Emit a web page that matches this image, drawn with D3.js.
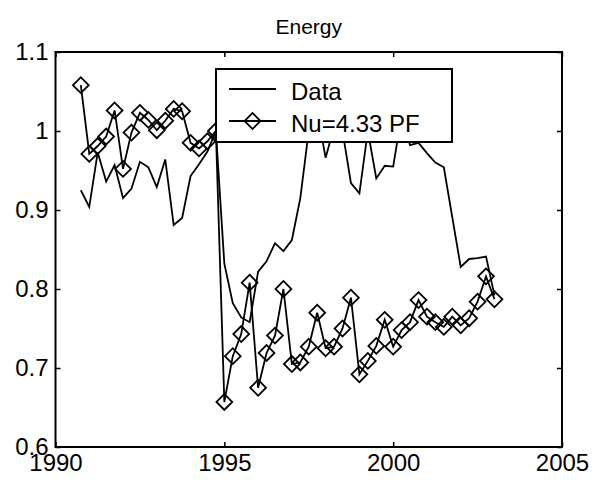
<!DOCTYPE html>
<html>
<head>
<meta charset="utf-8">
<script src="https://cdn.jsdelivr.net/npm/d3@7/dist/d3.min.js"></script>
<style>
  html, body { margin: 0; padding: 0; background: #fff; }
  svg { display: block; }
  text { font-family: "Liberation Sans", Arial, Helvetica, sans-serif; fill: #000; }
</style>
</head>
<body>
<svg id="chart" width="604" height="488"></svg>
<script>
// ---- data ----
const years = [1990.75, 1991.00, 1991.25, 1991.50, 1991.75, 1992.00, 1992.25, 1992.50, 1992.75, 1993.00,
               1993.25, 1993.50, 1993.75, 1994.00, 1994.25, 1994.50, 1994.75, 1995.00, 1995.25, 1995.50,
               1995.75, 1996.00, 1996.25, 1996.50, 1996.75, 1997.00, 1997.25, 1997.50, 1997.75, 1998.00,
               1998.25, 1998.50, 1998.75, 1999.00, 1999.25, 1999.50, 1999.75, 2000.00, 2000.25, 2000.50,
               2000.75, 2001.00, 2001.25, 2001.50, 2001.75, 2002.00, 2002.25, 2002.50, 2002.75, 2003.00];
const dataValues = [0.925, 0.904, 0.973, 0.936, 0.957, 0.915, 0.927, 0.961, 0.954, 0.929,
                    0.964, 0.881, 0.890, 0.943, 0.958, 0.974, 1.000, 0.832, 0.782, 0.764,
                    0.758, 0.822, 0.835, 0.858, 0.848, 0.862, 0.915, 1.000, 1.025, 0.966,
                    1.005, 1.000, 0.934, 0.921, 1.000, 0.940, 0.956, 0.955, 1.020, 0.982,
                    0.985, 0.972, 0.960, 0.954, 0.891, 0.828, 0.838, 0.839, 0.841, 0.792];
const pfValues = [1.058, 0.971, 0.981, 0.993, 1.026, 0.952, 0.998, 1.023, 1.014, 1.001,
                  1.013, 1.028, 1.025, 0.985, 0.978, 0.987, 1.000, 0.657, 0.715, 0.743,
                  0.808, 0.675, 0.719, 0.741, 0.800, 0.705, 0.707, 0.727, 0.770, 0.725,
                  0.727, 0.750, 0.789, 0.692, 0.709, 0.728, 0.761, 0.727, 0.748, 0.758,
                  0.786, 0.765, 0.758, 0.752, 0.765, 0.754, 0.763, 0.784, 0.816, 0.787];
const xTicks = [1990, 1995, 2000, 2005];
const yTicks = [0.6, 0.7, 0.8, 0.9, 1.0, 1.1];
const yTickLabels = ["0.6", "0.7", "0.8", "0.9", "1", "1.1"];
const titleText = "Energy";
const seriesNames = ["Data", "Nu=4.33 PF"];

// ---- layout ----
const svg = d3.select("#chart");
const L = 55.5, R = 562, T = 52, B = 447;
const x = d3.scaleLinear().domain([1990, 2005]).range([L, R]);
const y = d3.scaleLinear().domain([0.6, 1.1]).range([B, T]);
const FONT = 24;
const SW = 1.8;

const dataPts = years.map((t, i) => ({t, v: dataValues[i]}));
const pfPts = years.map((t, i) => ({t, v: pfValues[i]}));

// axes
function styleAxis(g, showText) {
  g.select(".domain").remove();
  g.selectAll(".tick line").attr("stroke", "#000").attr("stroke-width", 1.5);
  g.selectAll(".tick text").attr("font-size", FONT)
    .attr("font-family", '"Liberation Sans", Arial, sans-serif').attr("fill", "#000");
  if (!showText) g.selectAll(".tick text").remove();
}
svg.append("g").attr("transform", `translate(0,${B})`)
  .call(d3.axisBottom(x).tickValues(xTicks).tickFormat(d3.format("d")).tickSize(-5).tickPadding(7))
  .call(g => styleAxis(g, true));
svg.append("g").attr("transform", `translate(0,${T})`)
  .call(d3.axisTop(x).tickValues(xTicks).tickSize(-5))
  .call(g => styleAxis(g, false));
svg.append("g").attr("transform", `translate(${L},0)`)
  .call(d3.axisLeft(y).tickValues(yTicks).tickFormat((d, i) => yTickLabels[i]).tickSize(-5).tickPadding(7))
  .call(g => styleAxis(g, true));
svg.append("g").attr("transform", `translate(${R},0)`)
  .call(d3.axisRight(y).tickValues(yTicks).tickSize(-5))
  .call(g => styleAxis(g, false));

// lines
const line = d3.line().x(d => x(d.t)).y(d => y(d.v));
const plot = svg.append("g");
plot.append("path").datum(dataPts).attr("d", line)
  .attr("fill", "none").attr("stroke", "#000").attr("stroke-width", SW);
plot.append("path").datum(pfPts).attr("d", line)
  .attr("fill", "none").attr("stroke", "#000").attr("stroke-width", SW);
const diamond = d3.symbol().type(d3.symbolSquare).size(125);
plot.selectAll(".dm").data(pfPts).join("path")
  .attr("class", "dm")
  .attr("d", diamond)
  .attr("transform", d => `translate(${x(d.t)},${y(d.v)}) rotate(45)`)
  .attr("fill", "none").attr("stroke", "#000").attr("stroke-width", SW);

// box
svg.append("rect").attr("x", L).attr("y", T).attr("width", R - L).attr("height", B - T)
  .attr("fill", "none").attr("stroke", "#000").attr("stroke-width", 2);

// title
svg.append("text").attr("x", (L + R) / 2).attr("y", 34).attr("text-anchor", "middle")
  .attr("font-size", 21).text(titleText);

// legend
const lg = svg.append("g");
lg.append("rect").attr("x", 216).attr("y", 69).attr("width", 236).attr("height", 73)
  .attr("fill", "#fff").attr("stroke", "#000").attr("stroke-width", 2);
const rows = [89, 121];
seriesNames.forEach((name, i) => {
  lg.append("line").attr("x1", 229).attr("x2", 276).attr("y1", rows[i]).attr("y2", rows[i])
    .attr("stroke", "#000").attr("stroke-width", SW);
  if (i === 1) {
    lg.append("path").attr("d", diamond)
      .attr("transform", `translate(252.5,${rows[i]}) rotate(45)`)
      .attr("fill", "none").attr("stroke", "#000").attr("stroke-width", SW);
  }
  lg.append("text").attr("x", 291).attr("y", rows[i] + 11).attr("font-size", FONT).text(name);
});
</script>
</body>
</html>
